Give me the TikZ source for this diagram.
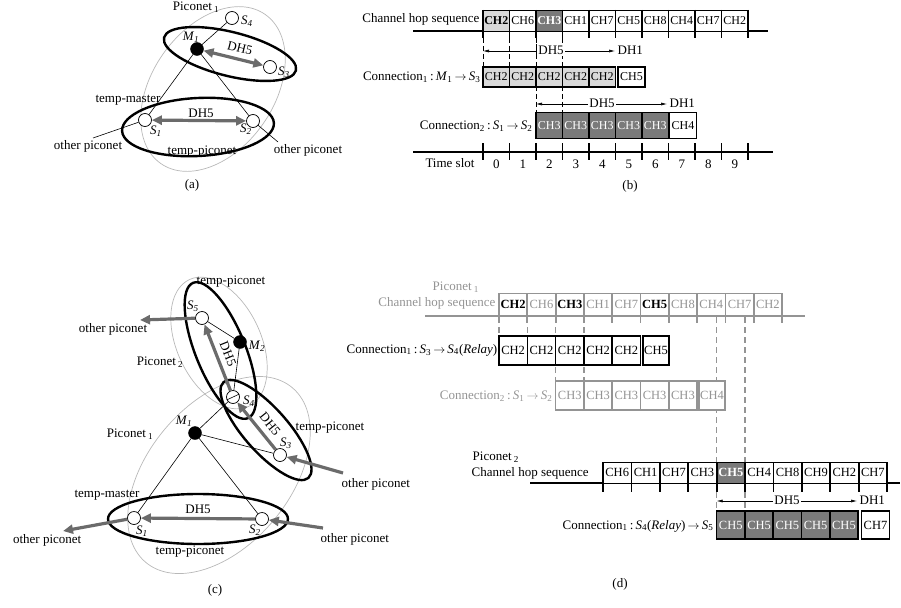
\documentclass[tikz,border=0pt]{standalone}
\usepackage{fontspec}
\setmainfont{Liberation Serif}
\usetikzlibrary{arrows.meta}
\definecolor{lgray}{gray}{0.85}
\definecolor{dgray}{gray}{0.48}
\definecolor{agray}{gray}{0.42}
\definecolor{egray}{gray}{0.72}
\definecolor{tgray}{gray}{0.58}
\newcommand\si[2]{\textit{#1}\textsubscript{\textit{#2}}}
\newcommand\su[2]{\textit{#1}\textsubscript{#2}}
\newcommand\myra{\,$\rightarrow$\,}
\begin{document}
\begin{tikzpicture}[x=1pt,y=-1pt,
 lbl/.style={font=\fontsize{13}{15}\selectfont,inner sep=0.5pt},
 nopen/.style={circle,draw,fill=white,line width=0.7pt,minimum size=13pt,inner sep=0pt},
 nfull/.style={circle,draw,fill=black,minimum size=13pt,inner sep=0pt},
 conn/.style={line width=0.6pt},
 gell/.style={draw=egray,line width=0.7pt},
 bell/.style={draw=black,line width=2.4pt},
 garrow/.style={draw=agray,line width=3.2pt,-{Triangle[length=10pt,width=9pt]}},
 gdarrow/.style={draw=agray,line width=3.2pt,{Triangle[length=10pt,width=9pt]}-{Triangle[length=10pt,width=9pt]}},
 dimarrow/.style={line width=0.6pt,{Latex[length=6pt,width=3pt]}-{Latex[length=6pt,width=3pt]}},
 bdash/.style={line width=0.8pt,dash pattern=on 5pt off 3pt},
 gdash/.style={draw=tgray,line width=1.3pt,dash pattern=on 6pt off 4pt},
 bcell/.style={inner sep=0pt,minimum width=26.5pt,font=\fontsize{12}{12}\selectfont},
 dcell/.style={inner sep=0pt,minimum width=28.3pt,font=\fontsize{12.5}{12}\selectfont},
 wc/.style={fill=white},
 lc/.style={fill=lgray,font=\fontsize{12}{12}\selectfont\bfseries},
 dc/.style={fill=dgray,text=white,font=\fontsize{12}{12}\selectfont\bfseries},
 gb/.style={text=black,font=\fontsize{12.5}{12}\selectfont\bfseries},
 gg/.style={text=tgray},
 pw/.style={fill=white},
 pd/.style={fill=dgray,text=white,font=\fontsize{12.5}{12}\selectfont\bfseries}
]
\useasboundingbox (0,0) rectangle (901,607);

% ================= (a) =================
\draw[gell, rotate around={55:(213,89)}] (213,89) ellipse [x radius=91, y radius=61];
\draw[bell, rotate around={-14:(230,54)}] (230,54) ellipse [x radius=68, y radius=22];
\draw[bell, rotate around={3:(198,127)}] (198,127) ellipse [x radius=76, y radius=29];
\node[nopen] (aS4) at (232,18) {};
\node[nfull] (aM1) at (197,49) {};
\node[nopen] (aS3) at (270,67) {};
\node[nopen] (aS1) at (145,120) {};
\node[nopen] (aS2) at (253,121) {};
\coordinate (aO1) at (93,138);
\coordinate (aO2) at (278,142);
\draw[conn] (aS4) -- (aM1);
\draw[conn] (aM1) -- (aS1);
\draw[conn] (aM1) -- (aS2);
\draw[conn] (aS1) -- (aO1);
\draw[conn] (aS2) -- (aO2);
\draw[gdarrow] (aM1) -- (aS3);
\draw[gdarrow] (aS1) -- (aS2);
\node[lbl] (aP1) at (196,7) {Piconet\,\textsubscript{1}};
\node[lbl] (aS4l) at (247,21) {\si{S}{4}};
\node[lbl] (aM1l) at (191,37) {\si{M}{1}};
\node[lbl] (aS3l) at (284,72) {\si{S}{3}};
\node[lbl,rotate=-14] (aDH1) at (240,48) {DH5};
\node[lbl] (aTM) at (128,100) {temp-master};
\node[lbl] (aDH2) at (201,113) {DH5};
\node[lbl] (aS1l) at (156,131) {\si{S}{1}};
\node[lbl] (aS2l) at (246,129) {\si{S}{2}};
\node[lbl] (aOP1) at (88,146) {other piconet};
\node[lbl] (aTP) at (202,152) {temp-piconet};
\node[lbl] (aOP2) at (308,150) {other piconet};
\node[lbl] (acap) at (192,185) {(a)};

% ================= (b) =================
\draw[line width=1.2pt] (413,31) -- (768,31);
\foreach \t/\s [count=\i from 0] in {CH2/lc,CH6/wc,CH3/dc,CH1/wc,CH7/wc,CH5/wc,CH8/wc,CH4/wc,CH7/wc,CH2/wc}
  \node[bcell,\s,draw,line width=0.8pt,minimum height=21pt] (bh\i) at ({496.25+26.5*\i},20.5) {\t};
\foreach \k in {0,...,10} \draw[line width=1.6pt] ({483+26.5*\k},10) -- ({483+26.5*\k},38);
\node[lbl,anchor=east] (bL1) at (480,19) {Channel hop sequence};
% dashed guides
\draw[bdash] (483,38) -- (483,67);
\draw[bdash] (509.5,38) -- (509.5,67);
\draw[bdash] (536,38) -- (536,112);
\draw[bdash] (562.5,38) -- (562.5,112);
% DH5 arrow 1
\coordinate (bA1) at (483,51);
\coordinate (bA2) at (615,51);
\draw[dimarrow] (bA1) -- (bA2);
\node[lbl,fill=white,inner sep=1.5pt] (bD1) at (551,50) {DH5};
\draw[bdash] (536,44) -- (536,58);
\node[lbl,anchor=west] (bD1b) at (617,50) {DH1};
% connection 1
\foreach \i in {0,...,4}
  \node[bcell,fill=lgray,draw,line width=1.5pt,minimum height=20pt] (bc1\i) at ({496.25+26.5*\i},77) {CH2};
\node[bcell,fill=white,draw,line width=1.5pt,minimum height=20pt,minimum width=27pt] (bc1x) at (631.5,77) {CH5};
\node[lbl,anchor=east] (bL2) at (481,77) {Connection\textsubscript{1}\,:\,\su{M}{1}\myra\su{S}{3}};
% DH5 arrow 2
\coordinate (bB1) at (536,104);
\coordinate (bB2) at (667,104);
\draw[dimarrow] (bB1) -- (bB2);
\node[lbl,fill=white,inner sep=1.5pt] (bD2) at (602,103) {DH5};
\node[lbl,anchor=west] (bD2b) at (669,103) {DH1};
% connection 2
\foreach \i in {0,...,4}
  \node[bcell,fill=dgray,text=white,draw,line width=1.5pt,minimum height=26pt] (bc2\i) at ({549.25+26.5*\i},125.5) {CH3};
\node[bcell,fill=white,draw,line width=1.5pt,minimum height=26pt,minimum width=27pt] (bc2x) at (683,125.5) {CH4};
\node[lbl,anchor=east] (bL3) at (533,126) {Connection\textsubscript{2}\,:\,\su{S}{1}\myra\su{S}{2}};
% time slots
\draw[line width=1.2pt] (413,152) -- (773,152);
\foreach \k in {0,...,10} \draw[line width=1.6pt] ({483+26.5*\k},143) -- ({483+26.5*\k},160);
\foreach \k in {0,...,9} \node[lbl] (bt\k) at ({496.25+26.5*\k},164) {\k};
\node[lbl] (bTS) at (450,163) {Time slot};
\node[lbl] (bcap) at (630,186) {(b)};

% ================= (c) =================
\draw[gell, rotate around={-65:(219,343)}] (219,343) ellipse [x radius=70, y radius=42];
\draw[gell, rotate around={50:(219,475)}] (219,475) ellipse [x radius=114, y radius=71];
\draw[bell, rotate around={-68:(220.5,350.5)}] (220.5,350.5) ellipse [x radius=73, y radius=25];
\draw[bell, rotate around={-48.5:(266,430)}] (266,430) ellipse [x radius=64, y radius=22];
\draw[bell] (198,519) ellipse [x radius=90, y radius=25];
\node[nopen] (cS5) at (202,318) {};
\node[nfull] (cM2) at (240,342) {};
\node[nopen] (cS4) at (233,397) {};
\draw[conn] (cS4.205) -- (cS4.25);
\node[nfull] (cM1) at (195,433) {};
\node[nopen] (cS3) at (280,455) {};
\node[nopen] (cS1) at (134,518) {};
\node[nopen] (cS2) at (262,519) {};
\coordinate (cO1) at (140,320);
\coordinate (cO2) at (343,473);
\coordinate (cO3) at (323,528);
\coordinate (cO4) at (63,531);
\draw[conn] (cM2) -- (cS5);
\draw[conn] (cM2) -- (cS4);
\draw[conn] (cS4) -- (cM1);
\draw[conn] (cM1) -- (cS3);
\draw[conn] (cM1) -- (cS1);
\draw[conn] (cM1) -- (cS2);
\draw[garrow] (cS5) -- (cO1);
\draw[garrow] (cS4) -- (cS5);
\draw[garrow] (cS3) -- (cS4);
\draw[garrow] (cO2) -- (cS3);
\draw[garrow] (cO3) -- (cS2);
\draw[garrow] (cS2) -- (cS1);
\draw[garrow] (cS1) -- (cO4);
\node[lbl] (cTP1) at (231,282) {temp-piconet};
\node[lbl] (cOP1) at (113,329) {other piconet};
\node[lbl] (cP2) at (160,362) {Piconet\,\textsubscript{2}};
\node[lbl] (cS5l) at (193,306) {\si{S}{5}};
\node[lbl] (cM2l) at (257,346) {\si{M}{2}};
\node[lbl] (cS4l) at (249,401) {\si{S}{4}};
\node[lbl,rotate=-68,inner sep=0pt] (cDH1) at (228,354) {DH5};
\node[lbl,rotate=-51,inner sep=0pt] (cDH2) at (270,424) {DH5};
\node[lbl] (cM1l) at (184,421) {\si{M}{1}};
\node[lbl] (cP1) at (130,434) {Piconet\,\textsubscript{1}};
\node[lbl] (cTP2) at (330,428) {temp-piconet};
\node[lbl] (cS3l) at (286,443) {\si{S}{3}};
\node[lbl,anchor=west] (cOP2) at (341,484) {other piconet};
\node[lbl] (cTM) at (107,495) {temp-master};
\node[lbl] (cDH3) at (198,509) {DH5};
\node[lbl] (cS1l) at (142,531) {\si{S}{1}};
\node[lbl] (cS2l) at (255,530) {\si{S}{2}};
\node[lbl,anchor=west] (cOP3) at (320,539) {other piconet};
\node[lbl,anchor=east] (cOP4) at (82,540) {other piconet};
\node[lbl] (cTP3) at (190,552) {temp-piconet};
\node[lbl] (ccap) at (215,590) {(c)};

% ================= (d) =================
% dashed guides (behind cells)
\draw[gdash] (499,317) -- (499,336);
\draw[gdash] (527.3,317) -- (527.3,336);
\draw[gdash] (555.6,317) -- (555.6,381);
\draw[gdash] (583.9,317) -- (583.9,381);
\draw[gdash] (716.6,317) -- (716.6,462);
\draw[gdash] (745,317) -- (745,462);
\draw[gdash] (716.6,492) -- (716.6,511);
\draw[gdash] (745,492) -- (745,511);
% piconet 1 hop sequence
\draw[draw=tgray,line width=1.3pt] (425,316) -- (805,316);
\foreach \t/\s [count=\i from 0] in {CH2/gb,CH6/gg,CH3/gb,CH1/gg,CH7/gg,CH5/gb,CH8/gg,CH4/gg,CH7/gg,CH2/gg}
  \node[dcell,\s,draw=tgray,fill=white,line width=0.9pt,minimum height=22pt] (dh\i) at ({513.15+28.3*\i},304) {\t};
\foreach \k in {0,...,10} \draw[draw=tgray,line width=1.8pt] ({499+28.3*\k},293) -- ({499+28.3*\k},323);
\node[lbl,text=tgray,anchor=west] (dL0) at (432,287) {Piconet\,\textsubscript{1}};
\node[lbl,text=tgray,anchor=east] (dL1) at (496,303) {Channel hop sequence};
% connection 1 (piconet 1)
\foreach \i in {0,...,4}
  \node[dcell,fill=white,draw,line width=1.6pt,minimum height=29pt] (dc1\i) at ({513.15+28.3*\i},350.5) {CH2};
\node[dcell,fill=white,draw,line width=1.6pt,minimum height=29pt,minimum width=26pt] (dc1x) at (656,350.5) {CH5};
\node[lbl,anchor=east] (dL2) at (498,350) {Connection\textsubscript{1}\,:\,\su{S}{3}\myra\su{S}{4}(\textit{Relay})};
% connection 2 (gray)
\foreach \i in {0,...,4}
  \node[dcell,fill=white,text=tgray,draw=tgray,line width=1.6pt,minimum height=29pt] (dc2\i) at ({569.75+28.3*\i},395.5) {CH3};
\node[dcell,fill=white,text=tgray,draw=tgray,line width=1.6pt,minimum height=29pt,minimum width=26pt] (dc2x) at (712,395.5) {CH4};
\node[lbl,text=tgray,anchor=east] (dL3) at (553,396) {Connection\textsubscript{2}\,:\,\su{S}{1}\myra\su{S}{2}};
% piconet 2 hop sequence
\draw[line width=1.3pt] (530,483) -- (900,483);
\foreach \t/\s [count=\i from 0] in {CH6/pw,CH1/pw,CH7/pw,CH3/pw,CH5/pd,CH4/pw,CH8/pw,CH9/pw,CH2/pw,CH7/pw}
  \node[dcell,\s,draw,line width=0.9pt,minimum height=21pt,minimum width=28.4pt] (dp\i) at ({617.2+28.4*\i},472.5) {\t};
\foreach \k in {0,...,10} \draw[line width=1.8pt] ({603+28.4*\k},462) -- ({603+28.4*\k},492);
\node[lbl,anchor=west] (dL4) at (472,457) {Piconet\,\textsubscript{2}};
\node[lbl,anchor=west] (dL5) at (471,473) {Channel hop sequence};
% DH5 arrow
\coordinate (dA1) at (716.6,501);
\coordinate (dA2) at (857,501);
\draw[dimarrow] (dA1) -- (dA2);
\node[lbl,fill=white,inner sep=1.5pt] (dD1) at (787,500) {DH5};
\node[lbl,anchor=west] (dD1b) at (859,500) {DH1};
% connection 1 (piconet 2)
\foreach \i in {0,...,4}
  \node[dcell,fill=dgray,text=white,draw,line width=1.6pt,minimum height=28pt] (dc3\i) at ({730.75+28.3*\i},525) {CH5};
\node[dcell,fill=white,draw,line width=1.6pt,minimum height=28pt,minimum width=28pt] (dc3x) at (875.5,525) {CH7};
\node[lbl,anchor=east] (dL6) at (714,526) {Connection\textsubscript{1}\,:\,\su{S}{4}(\textit{Relay})\myra\su{S}{5}};
\node[lbl] (dcap) at (620,584) {(d)};
\end{tikzpicture}
\end{document}
